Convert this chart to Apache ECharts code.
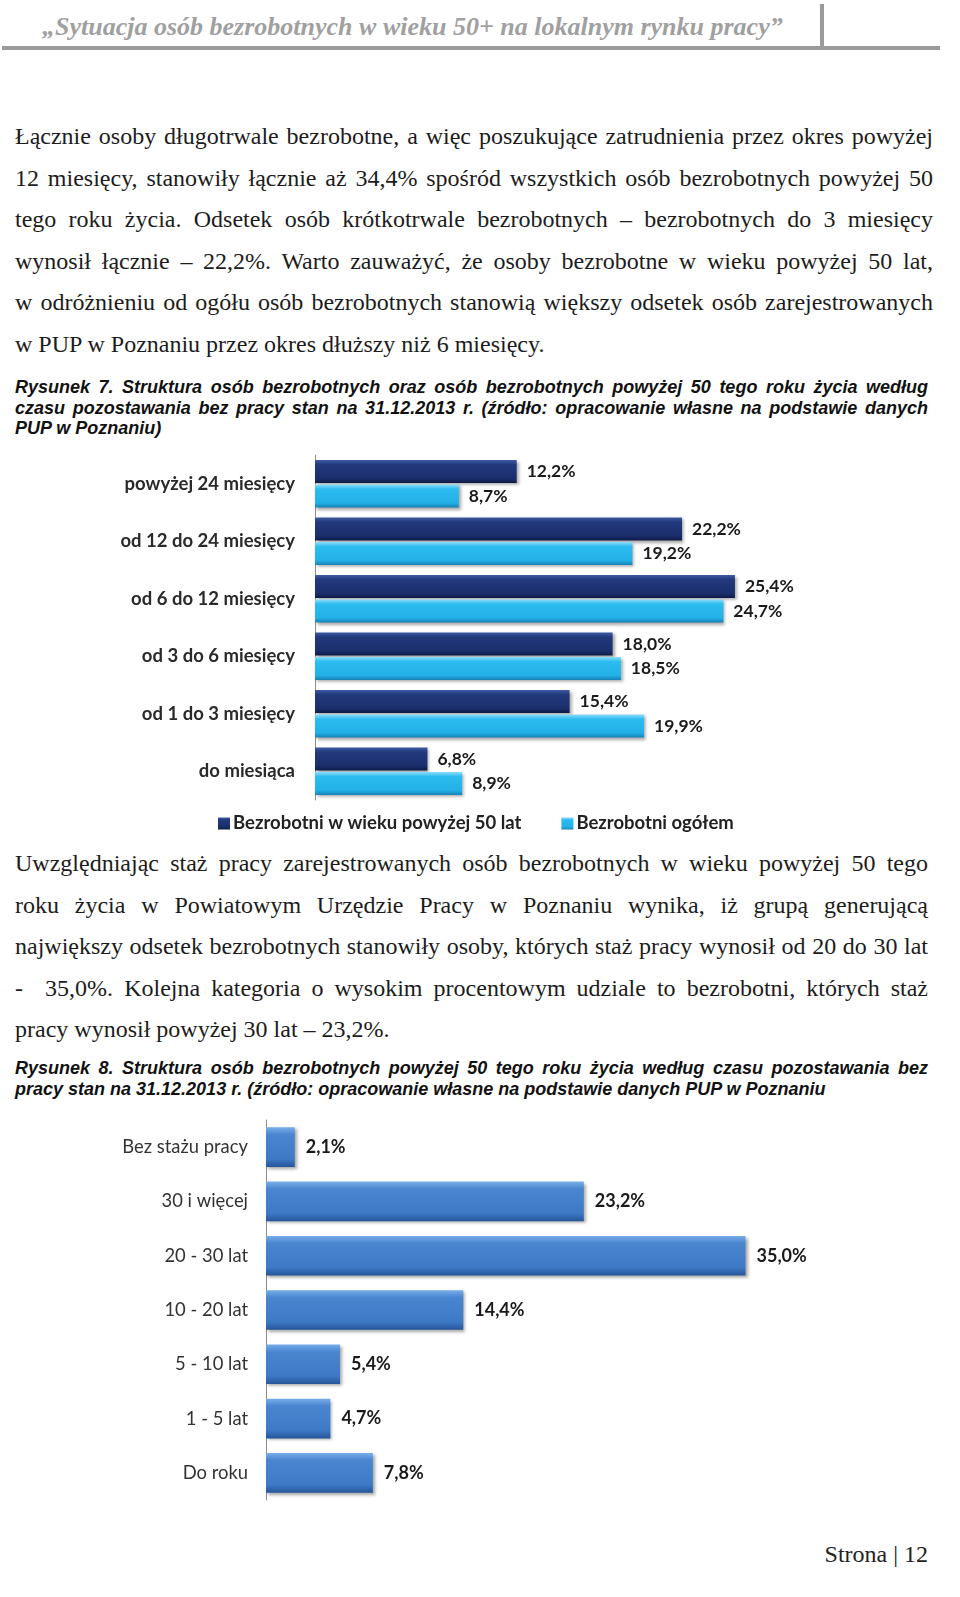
<!DOCTYPE html>
<html><head><meta charset="utf-8">
<script src="https://cdn.jsdelivr.net/npm/echarts@6/dist/echarts.min.js"></script>
<style>
body{margin:0;background:#fff;width:960px;height:1597px;position:relative;overflow:hidden;}
.ln{position:absolute;white-space:nowrap;}
.p{font-family:"Liberation Serif","Times New Roman",serif;font-size:24px;color:#1c1c1c;left:15px;}
.j{text-align:justify;text-align-last:justify;}
.c{font-family:"Liberation Sans",Arial,sans-serif;font-weight:bold;font-style:italic;font-size:18px;color:#111;left:15px;}
#hdr{position:absolute;left:42px;top:12px;font-family:"Liberation Serif",serif;font-weight:bold;font-style:italic;font-size:26px;color:#a0a0a0;white-space:nowrap;}
#hline{position:absolute;left:2px;top:46px;width:938px;height:4px;background:#9a9a9a;}
#vline{position:absolute;left:820px;top:4px;width:4px;height:44px;background:#9a9a9a;}
#foot{position:absolute;right:32px;top:1541px;font-family:"Liberation Serif",serif;font-size:24px;color:#222;}
.chart{position:absolute;left:0;width:960px;}
</style></head><body>
<div id="hdr">„Sytuacja osób bezrobotnych w wieku 50+ na lokalnym rynku pracy”</div>
<div id="hline"></div><div id="vline"></div>

<div class="ln p j" style="top:123px;width:918px">Łącznie osoby długotrwale bezrobotne, a więc poszukujące zatrudnienia przez okres powyżej</div>
<div class="ln p j" style="top:165px;width:918px">12 miesięcy, stanowiły łącznie aż 34,4% spośród wszystkich osób bezrobotnych powyżej 50</div>
<div class="ln p j" style="top:206px;width:918px">tego roku życia. Odsetek osób krótkotrwale bezrobotnych – bezrobotnych do 3 miesięcy</div>
<div class="ln p j" style="top:248px;width:918px">wynosił łącznie – 22,2%. Warto zauważyć, że osoby bezrobotne w wieku powyżej 50 lat,</div>
<div class="ln p j" style="top:289px;width:918px">w odróżnieniu od ogółu osób bezrobotnych stanowią większy odsetek osób zarejestrowanych</div>
<div class="ln p" style="top:331px">w PUP w Poznaniu przez okres dłuższy niż 6 miesięcy.</div>

<div class="ln c j" style="top:377px;width:913px">Rysunek 7. Struktura osób bezrobotnych oraz osób bezrobotnych powyżej 50 tego roku życia według</div>
<div class="ln c j" style="top:397.5px;width:913px">czasu pozostawania bez pracy stan na 31.12.2013 r. (źródło: opracowanie własne na podstawie danych</div>
<div class="ln c" style="top:418px">PUP w Poznaniu)</div>

<div id="chart1" class="chart" style="top:450px;height:400px"></div>

<div class="ln p j" style="top:850px;width:913px">Uwzględniając staż pracy zarejestrowanych osób bezrobotnych w wieku powyżej 50 tego</div>
<div class="ln p j" style="top:892px;width:913px">roku życia w Powiatowym Urzędzie Pracy w Poznaniu wynika, iż grupą generującą</div>
<div class="ln p j" style="top:933px;width:913px">największy odsetek bezrobotnych stanowiły osoby, których staż pracy wynosił od 20 do 30 lat</div>
<div class="ln p j" style="top:975px;width:913px">- &nbsp;35,0%. Kolejna kategoria o wysokim procentowym udziale to bezrobotni, których staż</div>
<div class="ln p" style="top:1016px">pracy wynosił powyżej 30 lat – 23,2%.</div>

<div class="ln c j" style="top:1058px;width:913px">Rysunek 8. Struktura osób bezrobotnych powyżej 50 tego roku życia według czasu pozostawania bez</div>
<div class="ln c" style="top:1079px">pracy stan na 31.12.2013 r. (źródło: opracowanie własne na podstawie danych PUP w Poznaniu</div>

<div id="chart2" class="chart" style="top:1110px;height:420px"></div>

<div id="foot">Strona | 12</div>

<script>
// ---- Chart 1 data ----
const categories1 = ['powyżej 24 miesięcy','od 12 do 24 miesięcy','od 6 do 12 miesięcy','od 3 do 6 miesięcy','od 1 do 3 miesięcy','do miesiąca'];
const seriesNames1 = ['Bezrobotni w wieku powyżej 50 lat','Bezrobotni ogółem'];
const over50 = [12.2, 22.2, 25.4, 18.0, 15.4, 6.8];
const overall = [8.7, 19.2, 24.7, 18.5, 19.9, 8.9];
// ---- Chart 2 data ----
const categories2 = ['Bez stażu pracy','30 i więcej','20 - 30 lat','10 - 20 lat','5 - 10 lat','1 - 5 lat','Do roku'];
const seniority = [2.1, 23.2, 35.0, 14.4, 5.4, 4.7, 7.8];

const fmt = p => p.value.toFixed(1).replace('.', ',') + '%';
const grad = (stops) => new echarts.graphic.LinearGradient(0,0,0,1, stops.map((c,i)=>({offset:c[0],color:c[1]})));
const shadow = {shadowColor:'rgba(0,0,0,0.35)',shadowBlur:3,shadowOffsetX:2,shadowOffsetY:2};
const labelFont = {fontFamily:'Lato',fontWeight:'bold',fontSize:17.5,color:'#1a1a1a'};

const c1 = echarts.init(document.getElementById('chart1'));
c1.setOption({
  animation:false,
  grid:{left:315,top:5,height:345,right:149,containLabel:false},
  xAxis:{type:'value',min:0,max:30,show:false},
  yAxis:{type:'category',data:categories1,inverse:true,
    axisLine:{lineStyle:{color:'#8c8c8c',width:1}},
    axisTick:{length:5,lineStyle:{color:'#8c8c8c'}},
    axisLabel:{margin:20,fontFamily:'Lato',fontWeight:'bold',fontSize:18.5,color:'#2a2a2a'}},
  legend:{left:213,top:359,itemWidth:12,itemHeight:12,itemGap:40,icon:'rect',
    textStyle:{fontFamily:'Lato',fontWeight:'bold',fontSize:18.5,color:'#222',padding:[0,0,0,-2]},
    data:seriesNames1},
  series:[
    {name:seriesNames1[0],type:'bar',data:over50,barGap:'6%',barCategoryGap:'17%',
      itemStyle:Object.assign({color:grad([[0,'#3f5ca6'],[0.2,'#22397c'],[0.8,'#1b2e6c'],[1,'#0d1a45']])},shadow),
      label:Object.assign({show:true,position:'right',distance:10,formatter:fmt},labelFont)},
    {name:seriesNames1[1],type:'bar',data:overall,
      itemStyle:Object.assign({color:grad([[0,'#8fdcfb'],[0.2,'#2dbcf0'],[0.8,'#22b0e6'],[1,'#1580b5']])},shadow),
      label:Object.assign({show:true,position:'right',distance:10,formatter:fmt},labelFont)}
  ]
});

const c2 = echarts.init(document.getElementById('chart2'));
c2.setOption({
  animation:false,
  grid:{left:266,top:10,height:380,right:146,containLabel:false},
  xAxis:{type:'value',min:0,max:40,show:false},
  yAxis:{type:'category',data:categories2,inverse:true,
    axisLine:{lineStyle:{color:'#8c8c8c',width:1}},
    axisTick:{length:5,lineStyle:{color:'#8c8c8c'}},
    axisLabel:{margin:18,fontFamily:'Lato',fontSize:18.4,color:'#333'}},
  series:[
    {type:'bar',data:seniority,barCategoryGap:'27%',
      itemStyle:Object.assign({color:grad([[0,'#78ade9'],[0.18,'#4a86d0'],[0.8,'#3d79c5'],[1,'#26559a']])},shadow),
      label:Object.assign({show:true,position:'right',distance:11,formatter:fmt},{fontFamily:'Lato',fontWeight:'bold',fontSize:18,color:'#1a1a1a'})}
  ]
});
</script>
</body></html>
